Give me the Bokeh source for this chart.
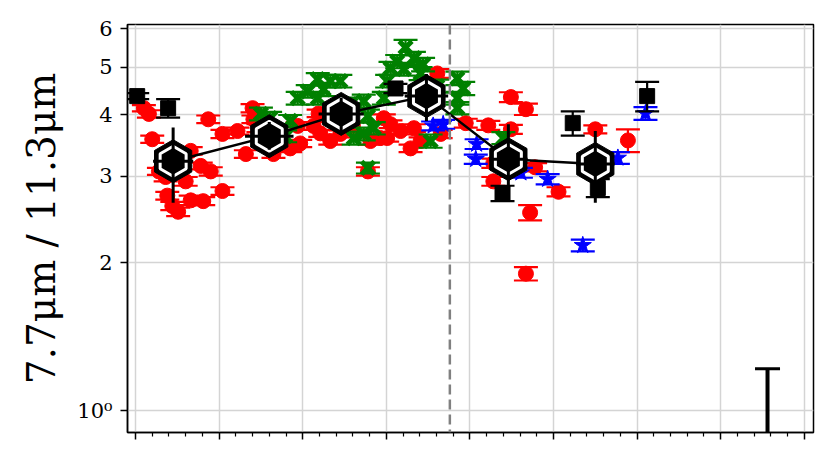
import numpy as np
from bokeh.plotting import figure
from bokeh.models import Range1d, FixedTicker, CustomJSTickFormatter, Span
from bokeh.embed import file_html
from bokeh.resources import INLINE

# ---- data (x in arbitrary position units, y = 7.7um/11.3um ratio) ----
red_x = [0.10, 0.16, 0.20, 0.28, 0.36, 0.51, 0.66, 0.78, 0.90, 1.04, 0.38, 0.44, 0.51, 0.66, 0.81,
         0.87, 1.04, 1.22, 1.40, 1.41, 1.32, 1.47, 1.65, 1.85, 1.97, 1.94, 2.13, 2.21, 2.45, 2.19,
         2.60, 2.78, 2.81, 2.93, 2.97, 3.05, 3.17, 3.33, 3.41, 3.29, 3.01, 3.61, 3.65, 3.95, 4.22,
         4.49, 4.67, 4.49, 4.28, 4.78, 5.06, 4.72, 4.67, 5.50, 5.89, 4.28, 0.60, 2.33]
red_y = [4.13, 4.02, 3.57, 3.07, 2.99, 3.13, 3.38, 3.15, 3.07, 2.80, 2.74, 2.61, 2.54, 2.68, 2.67,
         3.92, 3.66, 3.71, 4.13, 3.92, 3.33, 3.76, 3.33, 3.42, 3.50, 3.80, 3.80, 3.67, 3.66, 4.03,
         3.80, 3.07, 3.54, 3.59, 3.94, 3.83, 3.71, 3.76, 3.54, 3.42, 3.59, 4.86, 3.66, 3.85, 3.81,
         4.35, 4.11, 3.74, 3.19, 3.13, 2.79, 2.53, 1.90, 3.74, 3.55, 2.93, 2.93, 3.54]
red_err = [0.06, 0.07, 0.06, 0.05, 0.06, 0.05, 0.06, 0.05, 0.06, 0.05, 0.05, 0.05, 0.05, 0.06, 0.05,
           0.07, 0.07, 0.06, 0.08, 0.07, 0.06, 0.07, 0.06, 0.06, 0.06, 0.07, 0.07, 0.06, 0.06, 0.07,
           0.07, 0.06, 0.06, 0.06, 0.07, 0.07, 0.06, 0.07, 0.06, 0.06, 0.06, 0.10, 0.07, 0.08, 0.08,
           0.10, 0.11, 0.08, 0.07, 0.06, 0.06, 0.09, 0.06, 0.07, 0.19, 0.06, 0.06, 0.06]

green_x = [3.23, 3.13, 3.33, 3.44, 3.05, 3.21, 3.01, 2.97, 3.85, 3.92, 3.85, 3.85, 3.53, 2.18, 2.33,
           2.45, 2.06, 1.94, 2.25, 2.18, 2.57, 2.73, 2.78, 2.85, 2.73, 2.61, 1.85, 1.61, 1.50, 2.78,
           4.40, 1.79, 3.41, 3.61]
green_y = [5.49, 5.14, 5.22, 5.07, 4.98, 4.96, 4.69, 4.33, 4.75, 4.53, 4.33, 4.13, 3.54, 4.73, 4.69,
           4.69, 4.47, 4.33, 4.51, 4.33, 4.21, 4.27, 3.98, 3.76, 3.66, 3.59, 3.89, 3.94, 4.02, 3.12,
           3.59, 3.62, 4.86, 4.58]
green_err = [0.20, 0.16, 0.16, 0.16, 0.15, 0.15, 0.14, 0.13, 0.15, 0.14, 0.13, 0.12, 0.11, 0.14, 0.14,
             0.14, 0.13, 0.13, 0.14, 0.13, 0.13, 0.13, 0.12, 0.11, 0.11, 0.11, 0.11, 0.12, 0.12, 0.08,
             0.10, 0.10, 0.15, 0.14]

blue_x = [3.56, 3.68, 4.08, 4.07, 4.61, 4.93, 5.35, 5.77, 6.10]
blue_y = [3.80, 3.83, 3.49, 3.25, 3.05, 2.96, 2.17, 3.27, 4.03]
blue_err = [0.08, 0.08, 0.08, 0.07, 0.07, 0.07, 0.06, 0.09, 0.12]

sq_x = [0.02, 0.39, 3.11, 4.39, 5.23, 5.53, 6.12]
sq_y = [4.37, 4.13, 4.53, 2.77, 3.85, 2.84, 4.37]
sq_err = [0.06, 0.18, 0.10, 0.10, 0.22, 0.12, 0.30]

hex_x = [0.45, 1.60, 2.46, 3.48, 4.46, 5.50]
hex_y = [3.22, 3.62, 4.02, 4.37, 3.25, 3.18]
hex_lo = [2.65, 3.40, 3.68, 3.89, 2.67, 2.65]
hex_hi = [3.77, 3.87, 4.33, 4.85, 3.83, 3.71]
hex_xerr = [0.24, 0.29, 0.27, 0.26, 0.23, 0.23]

divider_x = 3.76
typ_err_x = [7.56]
typ_err_lo = [0.80]
typ_err_hi = [1.217]

y_ticks = [1, 2, 3, 4, 5, 6]
x_ticks = [0, 1, 2, 3, 4, 5, 6, 7, 8]
x_minor = [round(t + k * 0.2, 2) for t in range(-1, 9) for k in range(1, 5)]

FONT = "DejaVu Serif"

p = figure(width=822, height=451, y_axis_type="log",
           x_range=Range1d(-0.096, 8.11), y_range=Range1d(0.902, 6.115),
           output_backend="svg", toolbar_location=None,
           min_border_left=127, min_border_right=9, min_border_top=24, min_border_bottom=19,
           background_fill_color="white", border_fill_color="white")

p.outline_line_color = "black"
p.outline_line_width = 1.5
p.grid.grid_line_color = "#d4d4d4"
p.grid.grid_line_width = 1.5

# axes
p.yaxis.ticker = FixedTicker(ticks=y_ticks, minor_ticks=[])
p.yaxis.formatter = CustomJSTickFormatter(code="return tick == 1 ? '10\u2070' : tick.toFixed(0);")
p.yaxis.axis_label = "7.7\u03bcm / 11.3\u03bcm"
p.yaxis.axis_label_text_font = FONT
p.yaxis.axis_label_text_font_style = "normal"
p.yaxis.axis_label_text_font_size = "39px"
p.yaxis.axis_label_text_color = "black"
p.yaxis.axis_label_standoff = 10
p.yaxis.major_label_text_font = FONT
p.yaxis.major_label_text_font_size = "21px"
p.yaxis.major_label_standoff = 8
p.yaxis.major_tick_out = 7
p.yaxis.major_tick_in = 0
p.yaxis.minor_tick_out = 0
p.yaxis.minor_tick_in = 0

p.xaxis.ticker = FixedTicker(ticks=x_ticks, minor_ticks=x_minor)
p.xaxis.formatter = CustomJSTickFormatter(code="return '';")
p.xaxis.major_label_standoff = 0
p.xaxis.major_tick_out = 7
p.xaxis.major_tick_in = 0
p.xaxis.minor_tick_out = 4
p.xaxis.minor_tick_in = 0
for ax in (p.xaxis, p.yaxis):
    ax.axis_line_width = 1.5
    ax.axis_line_color = "black"
    ax.major_tick_line_width = 1.5
    ax.minor_tick_line_width = 1.2
    ax.major_label_text_color = "black"


def errorbars(xs, ys, errs, color, cap=24, lw=2.2):
    lo = [y - e for y, e in zip(ys, errs)]
    hi = [y + e for y, e in zip(ys, errs)]
    p.segment(x0=xs, y0=lo, x1=xs, y1=hi, line_color=color, line_width=lw)
    p.scatter(xs + xs, lo + hi, marker="dash", size=cap, line_color=color, line_width=lw)


# red circles
errorbars(red_x, red_y, red_err, "red")
p.scatter(red_x, red_y, marker="circle", size=15, fill_color="red", line_color="red")

# green X
errorbars(green_x, green_y, green_err, "green", cap=24)
p.scatter(green_x, green_y, marker="x", size=18, line_color="green", line_width=5)

# blue stars
errorbars(blue_x, blue_y, blue_err, "blue", cap=24)
p.scatter(blue_x, blue_y, marker="star", size=18, fill_color="blue", line_color="blue")

# black squares
errorbars(sq_x, sq_y, sq_err, "black", cap=24)
p.scatter(sq_x, sq_y, marker="square", size=15, fill_color="black", line_color="black")

# dashed divider
p.add_layout(Span(location=divider_x, dimension="height", line_color="gray",
                  line_width=2.5, line_dash="10 5"))

# binned means (hexagons)
p.line(hex_x, hex_y, line_color="black", line_width=2.5)
p.scatter(hex_x, hex_y, marker="hex", size=43, angle=np.pi / 2,
          fill_color="black", line_color="black", line_width=1)
p.scatter(hex_x, hex_y, marker="hex", size=30, angle=np.pi / 2,
          fill_color="black", line_color="white", line_width=3)
p.segment(x0=hex_x, y0=hex_lo, x1=hex_x, y1=hex_hi, line_color="black", line_width=3)
hx0 = [x - e for x, e in zip(hex_x, hex_xerr)]
hx1 = [x + e for x, e in zip(hex_x, hex_xerr)]
p.segment(x0=hx0, y0=hex_y, x1=hx1, y1=hex_y, line_color="black", line_width=3)

# typical error bar
p.segment(x0=typ_err_x, y0=typ_err_lo, x1=typ_err_x, y1=typ_err_hi, line_color="black", line_width=4)
p.scatter(typ_err_x, typ_err_hi, marker="dash", size=25, line_color="black", line_width=3)

open("out.html", "w").write(file_html(p, INLINE))
